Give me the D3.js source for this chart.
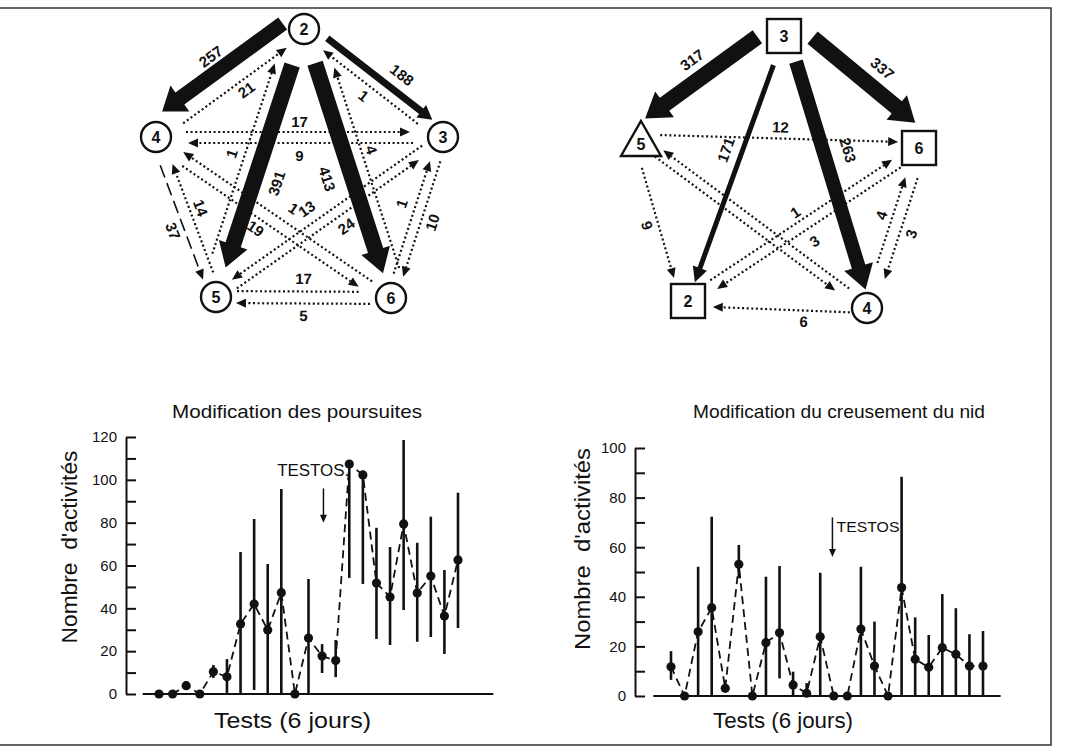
<!DOCTYPE html>
<meta charset="utf-8">
<html>
<head>
<script src="https://cdn.jsdelivr.net/npm/d3@7"></script>
<style>
  body { margin: 0; background: #fff; }
  svg { font-family: "Liberation Sans", Arial, sans-serif; }
  .axis path, .axis line { stroke: #111; stroke-width: 2px; }
  .axis text { font-size: 15px; fill: #111; font-family: "Liberation Sans", Arial, sans-serif; }
  .flowlab { font-size: 15px; font-weight: bold; fill: #111; }
  .nodelab { font-size: 16px; font-weight: bold; fill: #111; }
  .title { font-size: 19px; fill: #111; }
  .axlab { font-size: 22px; fill: #111; }
  .note { font-size: 15px; fill: #111; }
</style>
</head>
<body>
<svg id="fig" width="1065" height="752"></svg>
<script>
// ---------- pursuit network (left) ----------
var pursuitNodes = ["2", "4", "3", "5", "6"];
var pursuitFlows = [
  ["2","4",257], ["4","2",21], ["2","3",188], ["3","2",1],
  ["2","5",391], ["5","2",1],  ["2","6",413], ["6","2",4],
  ["4","3",17],  ["3","4",9],  ["4","5",37],  ["5","4",14],
  ["6","4",1],   ["4","6",19], ["3","5",13],  ["5","3",24],
  ["3","6",10],  ["6","3",1],  ["5","6",17],  ["6","5",5]
];
// ---------- nest digging network (right) ----------
var nestNodes = ["3", "5", "6", "2", "4"];
var nestFlows = [
  ["3","5",317], ["3","6",337], ["3","2",171], ["3","4",263],
  ["5","6",12],  ["4","5",null], ["5","4",null], ["2","6",1], ["6","2",3],
  ["5","2",9],   ["4","2",6],   ["4","6",4],   ["6","4",3]
];

// ---------- time series ----------
var pursuitMean = [0,0,3.9,0,10.4,8,32.7,42,29.9,47.3,0,26.1,17.7,15.6,107.4,102.3,51.8,45.3,79.4,47.2,55.1,36.4,62.6];
var pursuitHigh = [0,0,6,0,13.5,16.3,66.3,81.7,60.7,95.7,0,53.7,23.3,25.2,107.4,102.3,77.6,68.6,118.6,70.6,82.8,57.9,94];
var pursuitLow  = [0,0,3.9,0,7.5,0,0,1.9,0,0,0,0,9.8,7.9,54.2,51.4,25.7,22.9,39.2,24.4,26.6,18.7,30.8];

var nestMean = [11.8,0,25.9,35.6,3.1,53.1,0,21.5,25.5,4.4,1.1,23.9,0,0,27,12.1,0,43.7,14.8,11.6,19.5,16.8,12.1,12.1];
var nestHigh = [18.1,0,52.1,72.3,3.1,60.9,0,48.1,52.4,9.8,5.2,49.7,0,0,52.1,30,0,88.4,31.7,24.6,41.1,35.4,24.9,26.2];
var nestLow  = [6.5,0,0,0,3.1,47.5,0,0,7.1,0,0,0,0,0,0,0,0,0,0,0,0,0,0,0];

var pursuitTicks = d3.range(0, 121, 10);
var nestTicks = d3.range(0, 101, 10);
var pursuitTestos = 13.1, nestTestos = 12.9;

// ---------- layout / style (not data) ----------
var pursuitPos = {"2":[304,29], "4":[156,137], "3":[443,137], "5":[216,297], "6":[391,298]};
var pursuitShape = {"2":"circle","4":"circle","3":"circle","5":"circle","6":"circle"};
var pursuitStyle = [
  {k:"thick", w:15, hw:32, hl:22, off:17, lo:33, t:0.5, s:14, e:20},
  {k:"dot", off:5, lo:15, t:0.55, s:30, e:25},
  {k:"thick", w:7, hw:16, hl:14, off:-7, lo:-24, t:0.6, s:24, e:19},
  {k:"dot", off:-5, lo:-16, t:0.5, s:28, e:28},
  {k:"thick", w:16, hw:30, hl:24, off:0, lo:-22, t:0.55, s:38, e:31},
  {k:"dot", off:-17, lo:-30, t:0.5, s:40, e:42},
  {k:"thick", w:16, hw:30, hl:24, off:0, lo:24, t:0.53, s:36, e:26},
  {k:"dot", off:17, lo:27, t:0.52, s:26, e:46},
  {k:"dot", off:-5, lo:-16, t:0.5, s:30, e:33},
  {k:"dot", off:-6, lo:-18, t:0.5, s:30, e:32},
  {k:"dash", off:6, lo:17, t:0.55, s:28, e:21},
  {k:"dot", off:6, lo:17, t:0.52, s:24, e:31},
  {k:"dot", off:3, lo:19, t:0.46, s:25, e:31},
  {k:"dot", off:9, lo:19, t:0.47, s:38, e:33},
  {k:"dot", off:5, lo:20, t:0.55, s:22, e:23},
  {k:"dot", off:5, lo:17, t:0.53, s:22, e:33},
  {k:"dot", off:-5, lo:-16, t:0.5, s:24, e:24},
  {k:"dot", off:-5, lo:-19, t:0.55, s:24, e:27},
  {k:"dot", off:-6, lo:-19, t:0.5, s:21, e:31, noHead:true},
  {k:"dot", off:-6, lo:-18, t:0.5, s:21, e:20}
];

var nestPos = {"3":[784,36], "5":[641,140], "6":[919,148], "2":[688,301], "4":[867,308]};
var nestShape = {"3":"square","5":"triangle","6":"square","2":"square","4":"circle"};
var nestStyle = [
  {k:"thick", w:16, hw:32, hl:24, off:15, lo:35, t:0.5, s:22, e:16},
  {k:"thick", w:16, hw:32, hl:24, off:-17, lo:-38, t:0.55, s:23, e:19},
  {k:"thick", w:5, hw:15, hl:15, off:0, lo:16, t:0.45, s:31, e:20},
  {k:"thick", w:14, hw:30, hl:24, off:-4, lo:-28, t:0.45, s:28, e:18},
  {k:"dot", off:-5.5, lo:-17, t:0.5, s:19, e:21},
  {k:"dot", off:5, lo:0, t:0.5, s:26, e:24},
  {k:"dot", off:5, lo:0, t:0.5, s:21, e:36},
  {k:"dot", off:-5, lo:-15, t:0.5, s:30, e:29},
  {k:"dot", off:-6, lo:-20, t:0.5, s:26, e:31},
  {k:"dot", off:7, lo:18, t:0.5, s:27, e:26},
  {k:"dot", off:-5, lo:-16, t:0.35, s:17, e:25},
  {k:"dot", off:-4, lo:-15, t:0.55, s:46, e:32},
  {k:"dot", off:-8, lo:-19, t:0.5, s:29, e:33}
];

var svg = d3.select("#fig");

// frame
svg.append("path")
  .attr("d", "M0,8H1051V745H0")
  .attr("fill", "none").attr("stroke", "#333").attr("stroke-width", 1.5);

function drawNetwork(nodes, flows, pos, shape, styles) {
  var g = svg.append("g");
  flows.forEach(function(f, i) {
    var st = styles[i];
    var a = pos[f[0]], b = pos[f[1]];
    var dx = b[0] - a[0], dy = b[1] - a[1];
    var L = Math.sqrt(dx*dx + dy*dy);
    var ux = dx / L, uy = dy / L;
    var nx = -uy, ny = ux;
    var p0 = [a[0] + ux*st.s + nx*st.off, a[1] + uy*st.s + ny*st.off];
    var p1 = [b[0] - ux*st.e + nx*st.off, b[1] - uy*st.e + ny*st.off];
    var hl = st.hl || 10, hw = st.hw || 9;
    var base = [p1[0] - ux*hl, p1[1] - uy*hl];
    var pt = function(p, k) { return [p[0] + nx*k, p[1] + ny*k]; };

    if (st.k === "thick") {
      var poly = [pt(p0, st.w/2), pt(base, st.w/2), pt(base, hw/2), p1,
                  pt(base, -hw/2), pt(base, -st.w/2), pt(p0, -st.w/2)];
      g.append("polygon")
        .attr("points", poly.map(function(p){ return p.join(","); }).join(" "))
        .attr("fill", "#111");
    } else {
      var end = st.noHead ? p1 : base;
      g.append("line")
        .attr("x1", p0[0]).attr("y1", p0[1])
        .attr("x2", end[0]).attr("y2", end[1])
        .attr("stroke", "#111")
        .attr("stroke-width", st.k === "dash" ? 1.6 : 2.2)
        .attr("stroke-dasharray", st.k === "dash" ? "13,6" : "2,2.6");
      if (!st.noHead) {
        var head = [pt(base, hw/2), p1, pt(base, -hw/2)];
        g.append("polygon")
          .attr("points", head.map(function(p){ return p.join(","); }).join(" "))
          .attr("fill", "#111");
      }
    }

    if (f[2] !== null) {
      var lx = a[0] + ux*L*st.t + nx*st.lo;
      var ly = a[1] + uy*L*st.t + ny*st.lo;
      var ang = Math.atan2(dy, dx) * 180 / Math.PI;
      if (ang > 90) ang -= 180;
      if (ang < -90) ang += 180;
      g.append("text")
        .attr("class", "flowlab")
        .attr("text-anchor", "middle")
        .attr("dominant-baseline", "central")
        .attr("transform", "translate(" + lx + "," + ly + ") rotate(" + ang + ")")
        .text(f[2]);
    }
  });

  var ng = g.selectAll(".node").data(nodes).enter().append("g")
    .attr("transform", function(d){ return "translate(" + pos[d][0] + "," + pos[d][1] + ")"; });
  ng.each(function(d) {
    var el = d3.select(this);
    var sh = shape[d];
    if (sh === "circle") {
      el.append("circle").attr("r", 15);
    } else if (sh === "square") {
      el.append("rect").attr("x", -17).attr("y", -17).attr("width", 34).attr("height", 34);
    } else {
      el.append("polygon").attr("points", "0,-19 20,16 -20,16");
    }
    el.selectAll("circle,rect,polygon")
      .attr("fill", "#fff").attr("stroke", "#111").attr("stroke-width", 2.4);
    el.append("text")
      .attr("class", "nodelab")
      .attr("text-anchor", "middle")
      .attr("y", sh === "triangle" ? 9.5 : 6)
      .text(d);
  });
}

drawNetwork(pursuitNodes, pursuitFlows, pursuitPos, pursuitShape, pursuitStyle);
drawNetwork(nestNodes, nestFlows, nestPos, nestShape, nestStyle);

function drawSeries(cfg) {
  var g = svg.append("g");
  var x = d3.scaleLinear().domain([1, cfg.mean.length]).range(cfg.xr);
  var y = d3.scaleLinear().domain([0, cfg.ymax]).range(cfg.yr);
  var pts = cfg.mean.map(function(v, i) {
    return {t: i + 1, v: v, hi: cfg.high[i], lo: cfg.low[i]};
  });

  g.append("g").attr("class", "axis")
    .attr("transform", "translate(" + cfg.ax + ",0)")
    .call(d3.axisLeft(y).tickValues(cfg.ticks)
      .tickSizeInner(-10).tickSizeOuter(0).tickPadding(9)
      .tickFormat(function(d){ return d % 20 === 0 ? d : ""; }));

  // baseline
  g.append("line")
    .attr("x1", x(cfg.span[0])).attr("x2", x(cfg.span[1]))
    .attr("y1", y(0)).attr("y2", y(0))
    .attr("stroke", "#111").attr("stroke-width", 2);

  // error bars
  g.selectAll(".err").data(pts.filter(function(d){ return d.hi > d.lo; }))
    .enter().append("line")
      .attr("x1", function(d){ return x(d.t); })
      .attr("x2", function(d){ return x(d.t); })
      .attr("y1", function(d){ return y(d.lo); })
      .attr("y2", function(d){ return y(d.hi); })
      .attr("stroke", "#111").attr("stroke-width", 2.6);

  g.append("path")
    .datum(pts)
    .attr("d", d3.line().x(function(d){ return x(d.t); }).y(function(d){ return y(d.v); }))
    .attr("fill", "none").attr("stroke", "#111")
    .attr("stroke-width", 1.8).attr("stroke-dasharray", "8,5");

  g.selectAll(".pt").data(pts).enter().append("circle")
    .attr("cx", function(d){ return x(d.t); })
    .attr("cy", function(d){ return y(d.v); })
    .attr("r", 4.6).attr("fill", "#111");

  // testosterone arrow
  var ax = x(cfg.testos);
  g.append("line")
    .attr("x1", ax).attr("x2", ax)
    .attr("y1", y(cfg.arrow[0])).attr("y2", y(cfg.arrow[1]) - 7)
    .attr("stroke", "#111").attr("stroke-width", 1.5);
  g.append("polygon")
    .attr("points", [[ax - 3.5, y(cfg.arrow[1]) - 8], [ax + 3.5, y(cfg.arrow[1]) - 8], [ax, y(cfg.arrow[1])]]
      .map(function(p){ return p.join(","); }).join(" "))
    .attr("fill", "#111");
  g.append("text").attr("class", "note")
    .attr("x", x(cfg.noteAt[0])).attr("y", y(cfg.noteAt[1]))
    .attr("textLength", cfg.noteLen).attr("lengthAdjust", "spacingAndGlyphs")
    .style("font-size", cfg.noteSize + "px")
    .text(cfg.note);

  g.append("text").attr("class", "title")
    .attr("x", cfg.title[1]).attr("y", 418)
    .attr("textLength", cfg.title[2]).attr("lengthAdjust", "spacingAndGlyphs")
    .text(cfg.title[0]);

  g.append("text").attr("class", "axlab")
    .attr("text-anchor", "middle")
    .attr("transform", "translate(" + cfg.ylab[0] + "," + cfg.ylab[1] + ") rotate(-90)")
    .attr("textLength", cfg.ylab[2]).attr("lengthAdjust", "spacingAndGlyphs")
    .text("Nombre\u00a0\u00a0d'activités");

  g.append("text").attr("class", "axlab")
    .attr("x", cfg.xlab[0]).attr("y", 728)
    .attr("textLength", cfg.xlab[1]).attr("lengthAdjust", "spacingAndGlyphs")
    .text("Tests (6 jours)");
}

drawSeries({
  mean: pursuitMean, high: pursuitHigh, low: pursuitLow,
  ymax: 120, ticks: pursuitTicks,
  xr: [159, 458], yr: [694, 437], ax: 126, span: [-0.2, 25.6],
  testos: pursuitTestos, arrow: [96, 80],
  note: "TESTOS.", noteAt: [9.7, 102], noteSize: 16, noteLen: 72,
  title: ["Modification des poursuites", 172, 250],
  ylab: [77, 547, 193], xlab: [214, 157]
});

drawSeries({
  mean: nestMean, high: nestHigh, low: nestLow,
  ymax: 100, ticks: nestTicks,
  xr: [671, 983], yr: [696, 448], ax: 635, span: [-0.3, 25.3],
  testos: nestTestos, arrow: [72, 56],
  note: "TESTOS", noteAt: [13.2, 66], noteSize: 15, noteLen: 63,
  title: ["Modification du creusement du nid", 693, 292],
  ylab: [590, 549, 202], xlab: [713, 140]
});
</script>
</body>
</html>
